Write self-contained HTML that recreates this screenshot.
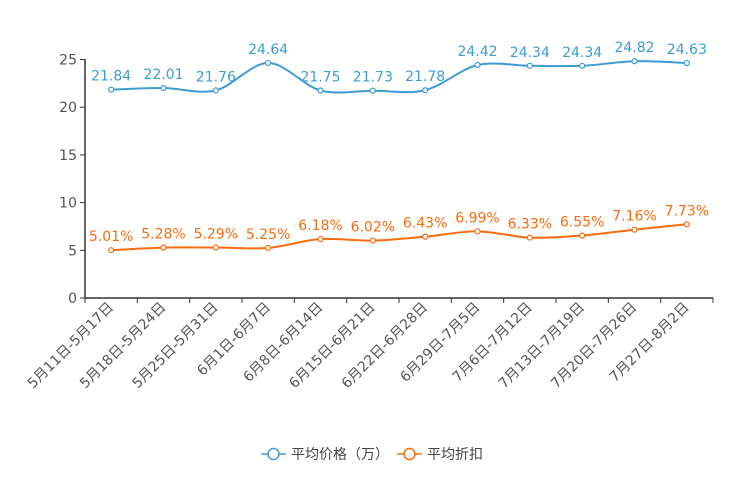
<!DOCTYPE html>
<html><head><meta charset="utf-8"><style>
html,body{margin:0;padding:0;background:#fff;width:744px;height:496px;overflow:hidden}
text{font-family:"DejaVu Sans","Noto Sans CJK SC",sans-serif}
</style></head><body>
<svg id="c" width="744" height="496"></svg>
<script>
const categories=["5月11日-5月17日","5月18日-5月24日","5月25日-5月31日","6月1日-6月7日","6月8日-6月14日","6月15日-6月21日","6月22日-6月28日","6月29日-7月5日","7月6日-7月12日","7月13日-7月19日","7月20日-7月26日","7月27日-8月2日"];
const priceValues=[21.84,22.01,21.76,24.64,21.75,21.73,21.78,24.42,24.34,24.34,24.82,24.63];
const discountValues=[5.01,5.28,5.29,5.25,6.18,6.02,6.43,6.99,6.33,6.55,7.16,7.73];
const yTicks=[0,5,10,15,20,25];
const NS="http://www.w3.org/2000/svg",svg=document.getElementById('c');
const L=85,R=713,T=59.5,B=298,yMax=25;
const bw=(R-L)/categories.length;
const xs=i=>L+bw*(i+0.5), ys=v=>B-(v/yMax)*(B-T);
function mk(t,a,p){const e=document.createElementNS(NS,t);for(const k in a)e.setAttribute(k,a[k]);(p||svg).appendChild(e);return e;}
let ax=mk('line',{x1:L,y1:T-0.5,x2:L,y2:B,stroke:'#333','stroke-width':1.5});

yTicks.forEach(v=>{const y=ys(v);
 let t=mk('line',{x1:L-5,y1:y,x2:L,y2:y,stroke:'#333'});
 let tx=mk('text',{x:L-8,y:y+5,'text-anchor':'end','font-size':14,fill:'#555'});tx.textContent=v;
 });
let xa=mk('line',{x1:L,y1:B,x2:R,y2:B,stroke:'#333','stroke-width':1.5});

for(let i=0;i<=categories.length;i++){const x=L+bw*i;let t=mk('line',{x1:x,y1:B,x2:x,y2:B+5,stroke:'#333'});
 }
categories.forEach((c,i)=>{const x=xs(i)+3,y=B+10;
 let t=mk('text',{x:x,y:y,'text-anchor':'end','font-size':14,fill:'#555',transform:`rotate(-45 ${x} ${y})`});t.textContent=c;
 });
function smooth(pts){let d=`M${pts[0][0]},${pts[0][1]}`;
 for(let i=0;i<pts.length-1;i++){const p0=pts[i-1]||pts[i],p1=pts[i],p2=pts[i+1],p3=pts[i+2]||p2,k=0.16;
  d+=` C${p1[0]+(p2[0]-p0[0])*k},${p1[1]+(p2[1]-p0[1])*k} ${p2[0]-(p3[0]-p1[0])*k},${p2[1]-(p3[1]-p1[1])*k} ${p2[0]},${p2[1]}`;}
 return d;}
function series(vals,color,name,suffix){
 const g=mk('g',{});
 const pts=vals.map((v,i)=>[xs(i),ys(v)]);
 let p=mk('path',{d:smooth(pts),fill:'none',stroke:color,'stroke-width':2},g);
 
 vals.forEach((v,i)=>{let c=mk('circle',{cx:pts[i][0],cy:pts[i][1],r:2.5,fill:'#fff',stroke:color,'stroke-width':1.2},g);
  
  let t=mk('text',{x:pts[i][0],y:pts[i][1]-9,'text-anchor':'middle','font-size':14,fill:color},g);t.textContent=v.toFixed(2)+suffix;
  });}
series(priceValues,'#3d9cd2','price','');
series(discountValues,'#f96c0e','discount','%');
function legend(x,color,label,name){const g=mk('g',{});
 mk('line',{x1:x,y1:454,x2:x+25,y2:454,stroke:color,'stroke-width':1.5},g);
 mk('circle',{cx:x+12.5,cy:454,r:5.5,fill:'#fff',stroke:color,'stroke-width':1.5},g);
 let t=mk('text',{x:x+30,y:459,'font-size':14,fill:'#444'},g);t.textContent=label;}
legend(261,'#3d9cd2','平均价格（万）','price');
legend(397,'#f96c0e','平均折扣','discount');
</script></body></html>
